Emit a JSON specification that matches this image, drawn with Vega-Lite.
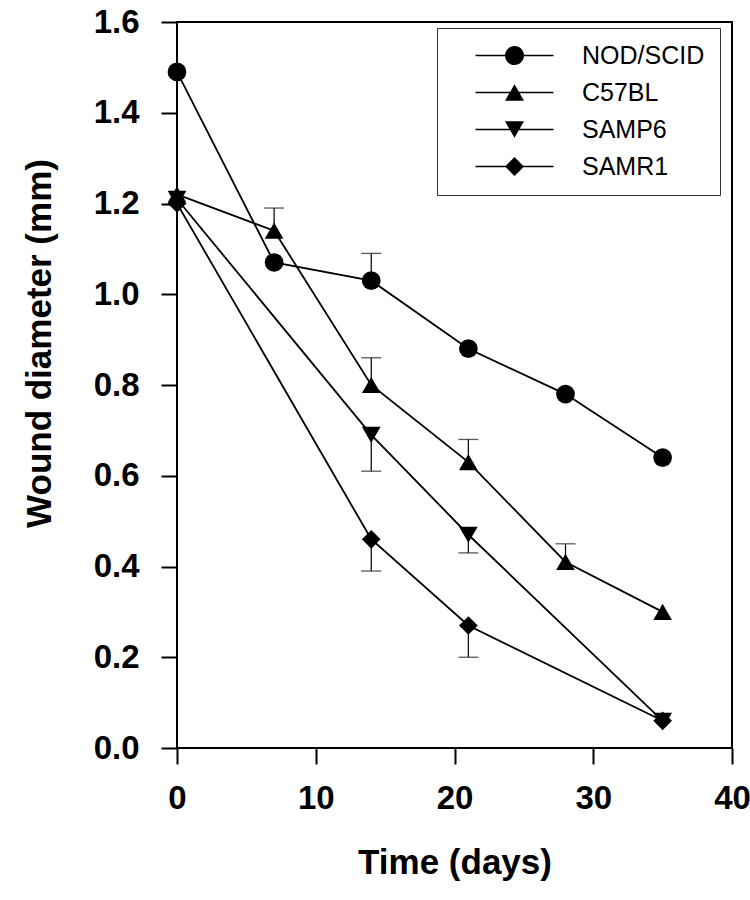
{
  "$schema": "https://vega.github.io/schema/vega-lite/v6.json",
  "width": 555,
  "height": 726,
  "autosize": {"type": "none"},
  "padding": {"left": 177, "top": 22, "right": 18, "bottom": 152},
  "background": "white",
  "config": {
    "view": {"stroke": "black", "strokeWidth": 2},
    "font": "Liberation Sans",
    "axis": {
      "domain": false, "grid": false, "ticks": true,
      "tickColor": "black", "tickWidth": 2, "tickSize": 16,
      "labelFont": "Liberation Sans", "labelFontWeight": "bold", "labelFontSize": 33, "labelColor": "black",
      "titleFont": "Liberation Sans", "titleFontWeight": "bold", "titleFontSize": 35, "titleColor": "black",
      "labelFlush": false, "labelOverlap": false
    }
  },
  "data": {
    "values": [
      {"strain": "NOD/SCID", "day": 0, "diameter": 1.49, "err": null},
      {"strain": "NOD/SCID", "day": 7, "diameter": 1.07, "err": null},
      {"strain": "NOD/SCID", "day": 14, "diameter": 1.03, "err": 1.09},
      {"strain": "NOD/SCID", "day": 21, "diameter": 0.88, "err": null},
      {"strain": "NOD/SCID", "day": 28, "diameter": 0.78, "err": null},
      {"strain": "NOD/SCID", "day": 35, "diameter": 0.64, "err": null},
      {"strain": "C57BL", "day": 0, "diameter": 1.22, "err": null},
      {"strain": "C57BL", "day": 7, "diameter": 1.14, "err": 1.19},
      {"strain": "C57BL", "day": 14, "diameter": 0.8, "err": 0.86},
      {"strain": "C57BL", "day": 21, "diameter": 0.63, "err": 0.68},
      {"strain": "C57BL", "day": 28, "diameter": 0.41, "err": 0.45},
      {"strain": "C57BL", "day": 35, "diameter": 0.3, "err": null},
      {"strain": "SAMP6", "day": 0, "diameter": 1.21, "err": null},
      {"strain": "SAMP6", "day": 14, "diameter": 0.69, "err": 0.61},
      {"strain": "SAMP6", "day": 21, "diameter": 0.47, "err": 0.43},
      {"strain": "SAMP6", "day": 35, "diameter": 0.06, "err": null},
      {"strain": "SAMR1", "day": 0, "diameter": 1.2, "err": null},
      {"strain": "SAMR1", "day": 14, "diameter": 0.46, "err": 0.39},
      {"strain": "SAMR1", "day": 21, "diameter": 0.27, "err": 0.2},
      {"strain": "SAMR1", "day": 35, "diameter": 0.06, "err": null}
    ]
  },
  "resolve": {"scale": {"shape": "independent"}},
  "layer": [
    {
      "transform": [{"filter": "datum.err != null"}],
      "mark": {"type": "rule", "color": "#111", "strokeWidth": 1.3},
      "encoding": {
        "x": {"field": "day", "type": "quantitative", "title": "Time (days)"},
        "y": {"field": "diameter", "type": "quantitative", "title": "Wound diameter (mm)"},
        "y2": {"field": "err"}
      }
    },
    {
      "transform": [{"filter": "datum.err != null"}],
      "mark": {"type": "tick", "orient": "horizontal", "color": "#111", "thickness": 1.3, "size": 20},
      "encoding": {
        "x": {"field": "day", "type": "quantitative", "title": "Time (days)"},
        "y": {"field": "err", "type": "quantitative", "title": "Wound diameter (mm)"}
      }
    },
    {
      "mark": {"type": "line", "color": "black", "strokeWidth": 1.8},
      "encoding": {
        "x": {
          "field": "day", "type": "quantitative", "title": "Time (days)",
          "scale": {"domain": [0, 40], "nice": false, "zero": false},
          "axis": {"values": [0, 10, 20, 30, 40], "format": "d", "labelPadding": 18, "titleY": 125, "titleBaseline": "alphabetic"}
        },
        "y": {
          "field": "diameter", "type": "quantitative", "title": "Wound diameter (mm)",
          "scale": {"domain": [0, 1.6], "nice": false},
          "axis": {"values": [0, 0.2, 0.4, 0.6, 0.8, 1.0, 1.2, 1.4, 1.6], "format": ".1f", "labelPadding": 22, "titleX": -127, "titleY": 321, "titleBaseline": "alphabetic"}
        },
        "detail": {"field": "strain"}
      }
    },
    {
      "mark": {"type": "point", "filled": true, "color": "black", "opacity": 1, "size": 350},
      "encoding": {
        "x": {"field": "day", "type": "quantitative", "title": "Time (days)"},
        "y": {"field": "diameter", "type": "quantitative", "title": "Wound diameter (mm)"},
        "shape": {
          "field": "strain", "type": "nominal",
          "scale": {"domain": ["NOD/SCID", "C57BL", "SAMP6", "SAMR1"], "range": ["circle", "triangle-up", "triangle-down", "diamond"]},
          "legend": null
        }
      }
    },
    {
      "transform": [{"filter": "false"}],
      "mark": {"type": "point", "filled": true, "color": "black", "opacity": 1},
      "encoding": {
        "x": {"field": "day", "type": "quantitative", "title": "Time (days)"},
        "y": {"field": "diameter", "type": "quantitative", "title": "Wound diameter (mm)"},
        "shape": {
          "field": "strain", "type": "nominal",
          "scale": {
            "domain": ["NOD/SCID", "C57BL", "SAMP6", "SAMR1"],
            "range": [
              "M-4.1,-0.09H4.1V0.09H-4.1Z M-1,0A1,1,0,1,1,1,0A1,1,0,1,1,-1,0Z",
              "M-4.1,-0.09H4.1V0.09H-4.1Z M0,-0.866L1,0.866L-1,0.866Z",
              "M-4.1,-0.09H4.1V0.09H-4.1Z M0,0.866L-1,-0.866L1,-0.866Z",
              "M-4.1,-0.09H4.1V0.09H-4.1Z M-1,0L0,-1L1,0L0,1Z"
            ]
          },
          "legend": {
            "title": null, "orient": "none", "legendX": 260, "legendY": 6, "direction": "vertical",
            "padding": 15, "strokeColor": "#333", "fillColor": "white",
            "symbolSize": 361, "symbolOffset": 50, "labelOffset": 55,
            "labelFontSize": 25, "labelFont": "Liberation Sans", "labelFontWeight": "normal", "labelColor": "black", "labelLimit": 300,
            "rowPadding": 11, "symbolFillColor": "black", "symbolStrokeColor": "black", "symbolStrokeWidth": 0, "symbolOpacity": 1
          }
        }
      }
    }
  ]
}
